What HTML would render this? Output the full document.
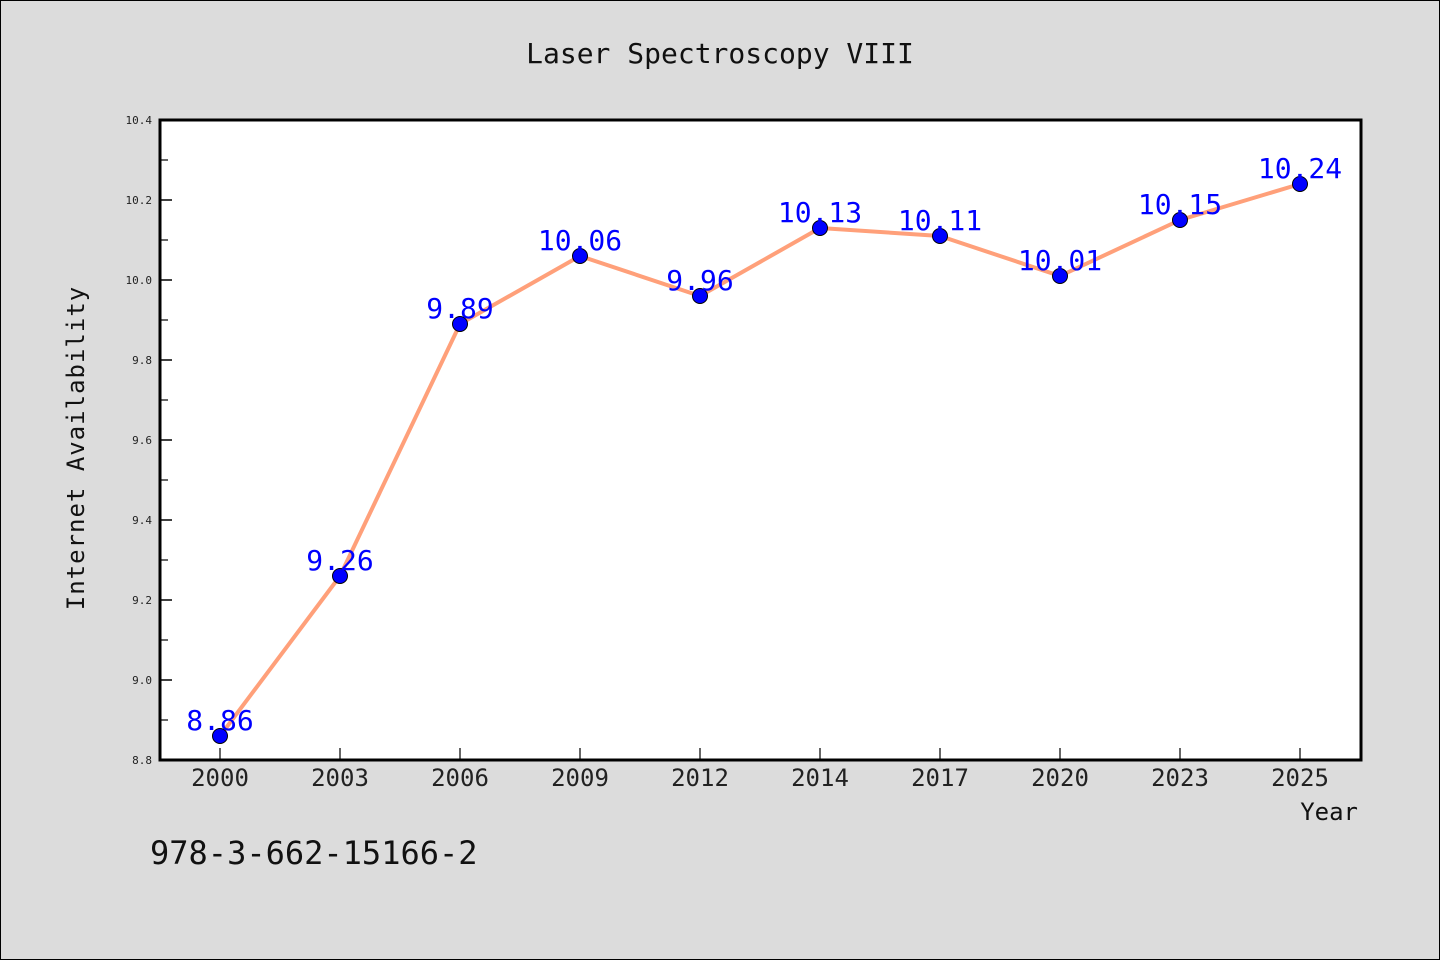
<!DOCTYPE html>
<html><head><meta charset="utf-8"><style>
html,body{margin:0;padding:0;background:#dcdcdc;}
svg{display:block;font-family:"WenQuanYi Zen Hei Mono","WenQuanYi Zen Hei","DejaVu Sans Mono",monospace;}
</style></head><body>
<svg id="chart" width="1440" height="960" viewBox="0 0 1440 960">
<rect x="0.5" y="0.5" width="1439" height="959" fill="#dcdcdc" stroke="#000" stroke-width="1"/>
<text x="720" y="63" font-size="28" text-anchor="middle" fill="#111">Laser Spectroscopy VIII</text>
<rect x="160" y="120" width="1201" height="640" fill="#fff"/>
<g id="yticks"></g>
<g id="xticks"></g>
<g id="series"></g>
<rect x="160" y="120" width="1201" height="640" fill="none" stroke="#000" stroke-width="3"/>
<text transform="translate(84,448) rotate(-90)" font-size="24" text-anchor="middle" fill="#111" letter-spacing="1">Internet Availability</text>
<text x="1358" y="820" font-size="24" text-anchor="end" fill="#111">Year</text>
<text x="150" y="864" font-size="32" fill="#111">978-3-662-15166-2</text>
</svg>
<script>
const categories=["2000","2003","2006","2009","2012","2014","2017","2020","2023","2025"];
const values=[8.86,9.26,9.89,10.06,9.96,10.13,10.11,10.01,10.15,10.24];
const valueLabels=["8.86","9.26","9.89","10.06","9.96","10.13","10.11","10.01","10.15","10.24"];
const yTicks=[8.8,9.0,9.2,9.4,9.6,9.8,10.0,10.2,10.4];
const yTickLabels=["8.8","9.0","9.2","9.4","9.6","9.8","10.0","10.2","10.4"];
const yMinorTicks=[8.9,9.1,9.3,9.5,9.7,9.9,10.1,10.3];
(function(){
const NS="http://www.w3.org/2000/svg";
const yMin=8.8,yMax=10.4,pTop=120,pBottom=760,pLeft=160;
function y(v){return pBottom-(v-yMin)/(yMax-yMin)*(pBottom-pTop);}
function x(i){return 220+i*120;}
function mk(tag,attrs,parent){const e=document.createElementNS(NS,tag);for(const k in attrs)e.setAttribute(k,attrs[k]);parent.appendChild(e);return e;}
const yg=document.getElementById('yticks');
yTicks.forEach((v,i)=>{
 const l=mk('line',{x1:pLeft,x2:pLeft+12,y1:y(v),y2:y(v),stroke:'#000','stroke-width':1.5},yg);
 
 
 const t=mk('text',{x:pLeft-8,y:y(v)+4,'font-size':11,'text-anchor':'end',fill:'#222'},yg);
 t.textContent=yTickLabels[i];
 
 
});
yMinorTicks.forEach(v=>{
 const l=mk('line',{x1:pLeft,x2:pLeft+8,y1:y(v),y2:y(v),stroke:'#000','stroke-width':1.2},yg);
 
 
});
const xg=document.getElementById('xticks');
categories.forEach((c,i)=>{
 const l=mk('line',{x1:x(i),x2:x(i),y1:pBottom,y2:pBottom-12,stroke:'#000','stroke-width':1.2},xg);
 
 
 const t=mk('text',{x:x(i),y:pBottom+26,'font-size':24,'text-anchor':'middle',fill:'#222'},xg);
 t.textContent=c;
 
 
});
const sg=document.getElementById('series');
const pts=values.map((v,i)=>x(i)+','+y(v)).join(' ');
const pl=mk('polyline',{points:pts,fill:'none',stroke:'#ffa07a','stroke-width':4,'stroke-linejoin':'round'},sg);


values.forEach((v,i)=>{
 const c=mk('circle',{cx:x(i),cy:y(v),r:7.5,fill:'#0000ff',stroke:'#000','stroke-width':1},sg);
 
 
});
values.forEach((v,i)=>{
 const t=mk('text',{x:x(i),y:y(v)-6,'font-size':28,'text-anchor':'middle',fill:'#0000ff'},sg);
 t.textContent=valueLabels[i];
 
 
});
})();
</script>
</body></html>
